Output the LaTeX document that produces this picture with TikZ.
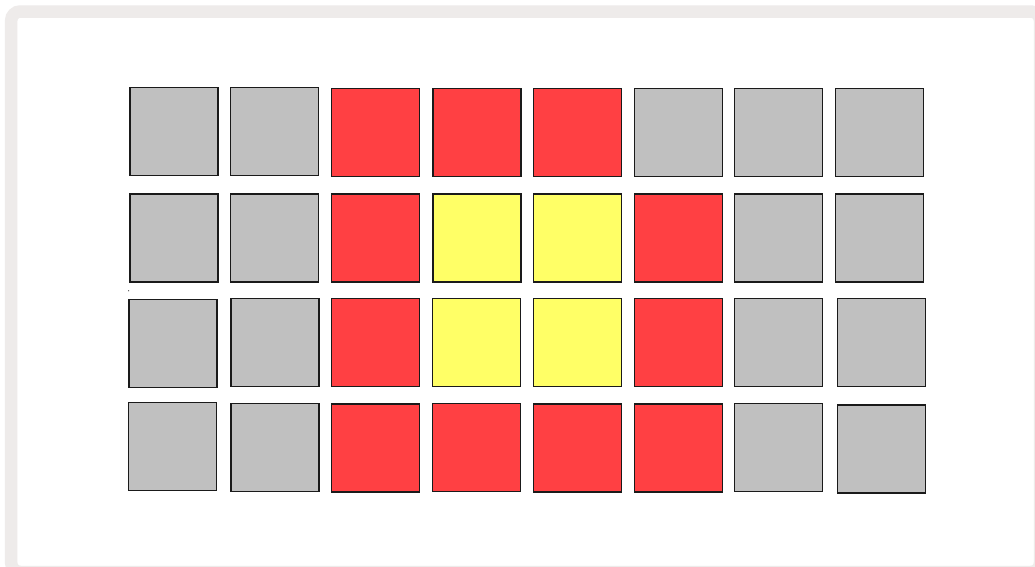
\documentclass[tikz,border=0pt]{standalone}
\usepackage{tikz}
\definecolor{padgrey}{HTML}{C0C0C0}
\definecolor{padred}{HTML}{FF4043}
\definecolor{padyellow}{HTML}{FFFF66}
\definecolor{framegrey}{HTML}{EEEBEA}
\definecolor{padedge}{HTML}{1A1A1A}
\tikzset{
  pad/.style={draw=padedge, line width=1.2pt, rectangle, inner sep=0pt, minimum size=88pt},
  greypad/.style={pad, fill=padgrey},
  redpad/.style={pad, fill=padred},
  yellowpad/.style={pad, fill=padyellow},
}
\begin{document}
\begin{tikzpicture}[x=1pt,y=-1pt]
\useasboundingbox (0,0) rectangle (1035,566);
\clip (0,0) rectangle (1035,566);
\fill[white] (0,0) rectangle (1035,566);
\draw[framegrey, line width=12.5pt, rounded corners=9pt] (11.2,11.5) rectangle (1040,572);
% row 1
\node[greypad] (p11) at (174,131.3) {};
\node[greypad] (p12) at (274.7,131.3) {};
\node[redpad] (p13) at (375.3,132.5) {};
\node[redpad] (p14) at (477,132.5) {};
\node[redpad] (p15) at (577.7,132.5) {};
\node[greypad] (p16) at (678.2,132.5) {};
\node[greypad] (p17) at (778.5,132.7) {};
\node[greypad] (p18) at (879.8,132.7) {};
% row 2
\node[greypad] (p21) at (174,238) {};
\node[greypad] (p22) at (274.7,238) {};
\node[redpad] (p23) at (375.3,238) {};
\node[yellowpad] (p24) at (477,238) {};
\node[yellowpad] (p25) at (577.7,238) {};
\node[redpad] (p26) at (678.2,238) {};
\node[greypad] (p27) at (778.7,238) {};
\node[greypad] (p28) at (879.8,238) {};
% row 3
\node[greypad] (p31) at (173,343.7) {};
\node[greypad] (p32) at (275,342.2) {};
\node[redpad] (p33) at (375.3,342.5) {};
\node[yellowpad] (p34) at (476.5,342.5) {};
\node[yellowpad] (p35) at (577.7,342.5) {};
\node[redpad] (p36) at (678.2,342.5) {};
\node[greypad] (p37) at (778.7,342.7) {};
\node[greypad] (p38) at (881.7,342.7) {};
% row 4
\node[greypad] (p41) at (172.3,446.7) {};
\node[greypad] (p42) at (275,447.8) {};
\node[redpad] (p43) at (375.3,448) {};
\node[redpad] (p44) at (476.5,447.5) {};
\node[redpad] (p45) at (577.7,448) {};
\node[redpad] (p46) at (678.2,448) {};
\node[greypad] (p47) at (778.7,447.8) {};
\node[greypad] (p48) at (881.7,449) {};
% stray dot
\fill[padedge] (128.7,290.8) circle (0.6pt);
\end{tikzpicture}
\end{document}
